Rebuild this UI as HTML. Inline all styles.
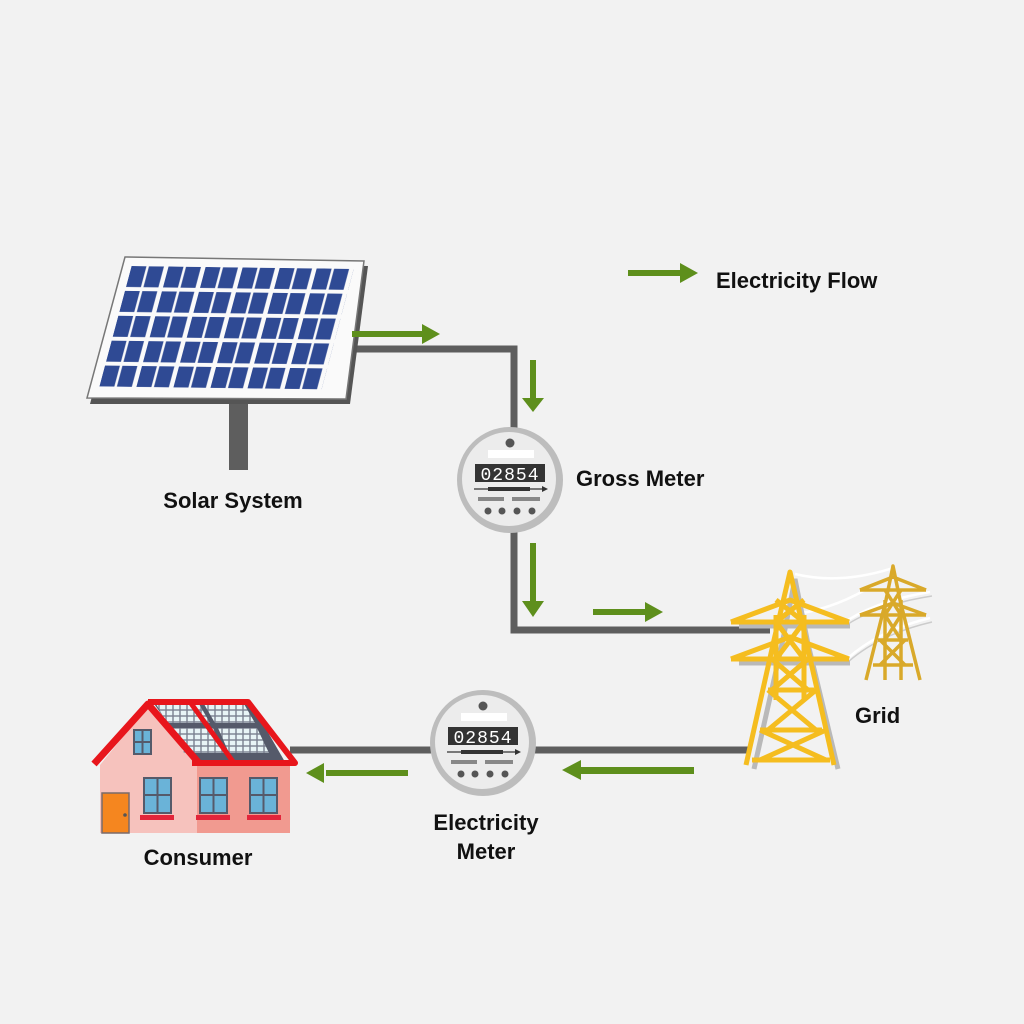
<!DOCTYPE html>
<html><head><meta charset="utf-8"><style>
html,body{margin:0;padding:0;background:#f2f2f2}
svg{display:block}
text{font-family:"Liberation Sans",sans-serif;font-weight:bold;font-size:22px;fill:#111}
</style></head><body>
<svg width="1024" height="1024" viewBox="0 0 1024 1024">
<defs>
<pattern id="cells" patternUnits="userSpaceOnUse" x="2" y="3" width="16.1" height="19">
<rect x="0" y="0" width="6.5" height="16" fill="#2f4a94"/>
<rect x="7.6" y="0" width="6.5" height="16" fill="#2f4a94"/>
</pattern>
<pattern id="rcells" patternUnits="userSpaceOnUse" width="7" height="6">
<rect x="0" y="0" width="7" height="6" fill="#7a8090"/>
<rect x="0.7" y="0.7" width="5.6" height="4.6" fill="#e8f4f6"/>
</pattern>
</defs>
<rect width="1024" height="1024" fill="#f2f2f2"/>

<!-- wires -->
<polyline points="350,349 514,349 514,430" fill="none" stroke="#5e5e5e" stroke-width="7"/>
<polyline points="514,530 514,630 770,630" fill="none" stroke="#5e5e5e" stroke-width="7"/>
<line x1="290" y1="750" x2="748" y2="750" stroke="#5e5e5e" stroke-width="7"/>

<!-- solar panel -->
<rect x="229" y="398" width="19" height="72" fill="#5e5e5e"/>
<polygon points="127,262 368,266 350,404 90,404" fill="#555"/>
<polygon points="125,257 364,261 346,399 87,398" fill="#fafafa" stroke="#777" stroke-width="1.5"/>
<g transform="matrix(2.3,0.03,-0.35,1.31,128,262)">
<rect x="2" y="3" width="96.6" height="92" fill="url(#cells)"/>
</g>

<!-- green arrows -->
<g fill="#5e8f1c">
<rect x="352" y="331" width="72" height="6"/><polygon points="422,324 440,334 422,344"/>
<rect x="530" y="360" width="6" height="40"/><polygon points="522,398 533,412 544,398"/>
<rect x="530" y="543" width="6" height="60"/><polygon points="522,601 533,617 544,601"/>
<rect x="593" y="609" width="54" height="6"/><polygon points="645,602 663,612 645,622"/>
<rect x="628" y="270" width="54" height="6"/><polygon points="680,263 698,273 680,283"/>
<rect x="326" y="770" width="82" height="6"/><polygon points="324,763 306,773 324,783"/>
<rect x="580" y="767" width="114" height="7"/><polygon points="581,760 562,770 581,780"/>
</g>

<!-- gross meter -->
<g transform="translate(510,480)">
<circle r="53" fill="#bdbdbd"/>
<circle r="47" cx="-1" cy="-1" fill="#ececec"/>
<circle cy="-37" r="4.5" fill="#555"/>
<rect x="-22" y="-30" width="46" height="8" fill="#fff"/>
<rect x="-35" y="-16" width="70" height="18" fill="#333"/>
<text x="0" y="0" text-anchor="middle" style="font-family:'Liberation Mono',monospace;font-weight:normal;font-size:18px;fill:#fff;letter-spacing:1px">02854</text>
<line x1="-36" y1="9" x2="34" y2="9" stroke="#333" stroke-width="1.2"/>
<rect x="-22" y="7" width="42" height="4" fill="#333"/>
<polygon points="32,6 38,9 32,12" fill="#333"/>
<rect x="-32" y="17" width="26" height="4" fill="#888"/>
<rect x="2" y="17" width="28" height="4" fill="#888"/>
<g fill="#555"><circle cx="-22" cy="31" r="3.5"/><circle cx="-8" cy="31" r="3.5"/><circle cx="7" cy="31" r="3.5"/><circle cx="22" cy="31" r="3.5"/></g>
</g>

<!-- electricity meter -->
<g transform="translate(483,743)">
<circle r="53" fill="#bdbdbd"/>
<circle r="47" cx="-1" cy="-1" fill="#ececec"/>
<circle cy="-37" r="4.5" fill="#555"/>
<rect x="-22" y="-30" width="46" height="8" fill="#fff"/>
<rect x="-35" y="-16" width="70" height="18" fill="#333"/>
<text x="0" y="0" text-anchor="middle" style="font-family:'Liberation Mono',monospace;font-weight:normal;font-size:18px;fill:#fff;letter-spacing:1px">02854</text>
<line x1="-36" y1="9" x2="34" y2="9" stroke="#333" stroke-width="1.2"/>
<rect x="-22" y="7" width="42" height="4" fill="#333"/>
<polygon points="32,6 38,9 32,12" fill="#333"/>
<rect x="-32" y="17" width="26" height="4" fill="#888"/>
<rect x="2" y="17" width="28" height="4" fill="#888"/>
<g fill="#555"><circle cx="-22" cy="31" r="3.5"/><circle cx="-8" cy="31" r="3.5"/><circle cx="7" cy="31" r="3.5"/><circle cx="22" cy="31" r="3.5"/></g>
</g>

<!-- power lines -->
<g fill="none" stroke="#fff" stroke-width="2.5">
<path d="M795,574 Q840,585 893,568"/>
<path d="M848,620 Q880,600 930,592"/>
<path d="M848,658 Q880,630 930,618"/>
<path d="M790,615 Q830,610 865,590"/>
</g>
<g fill="none" stroke="#ccc" stroke-width="1.5">
<path d="M848,624 Q880,604 932,596"/>
<path d="M848,662 Q880,634 932,622"/>
</g>

<!-- small tower -->
<g fill="none" stroke="#d9a92a" stroke-width="3.5" stroke-linejoin="round">
<polyline points="866,680 886,600 893,566 900,600 920,680"/>
<line x1="885" y1="600" x2="885" y2="680"/><line x1="901" y1="600" x2="901" y2="680"/>
<polyline points="860,590 926,590"/><polyline points="860,590 893,577 926,590"/>
<polyline points="860,615 926,615"/><polyline points="860,615 893,603 926,615"/>
<path d="M885,590 L901,615 M901,590 L885,615 M885,615 L901,640 M901,615 L885,640 M880,640 L905,665 M905,640 L880,665"/>
<line x1="878" y1="640" x2="908" y2="640"/><line x1="873" y1="665" x2="913" y2="665"/>
</g>

<!-- big tower -->
<g fill="none" stroke="#b9b9b9" stroke-width="5" transform="translate(4,4)">
<polyline points="750,765 778,640 791,575 804,640 834,765"/>
<line x1="735" y1="622" x2="846" y2="622"/><line x1="735" y1="659" x2="846" y2="659"/>
</g>
<g fill="none" stroke="#f5bd1f" stroke-width="5" stroke-linejoin="round">
<polyline points="746,765 774,640 790,572 806,640 834,765"/>
<line x1="776" y1="615" x2="776" y2="700"/><line x1="804" y1="615" x2="804" y2="700"/>
<polyline points="731,622 849,622"/><polyline points="731,622 790,600 849,622"/>
<polyline points="731,659 849,659"/><polyline points="731,659 790,637 849,659"/>
<path d="M776,600 L804,622 M804,600 L776,622 M776,622 L804,659 M804,622 L776,659 M772,659 L808,690 M808,659 L772,690 M768,690 L816,730 M816,690 L768,730 M760,730 L826,760 M826,730 L760,760"/>
<line x1="768" y1="690" x2="814" y2="690"/><line x1="760" y1="730" x2="822" y2="730"/><line x1="752" y1="760" x2="830" y2="760"/>
</g>

<!-- house -->
<polygon points="100,765 148,706 197,760 197,833 100,833" fill="#f6c2bd"/>
<rect x="197" y="760" width="93" height="73" fill="#f19a90"/>
<polygon points="152,701 250,701 285,762 196,762" fill="#555a6a"/>
<g transform="translate(152,704)">
<polygon points="4,0 47,0 58,19 15,19" fill="url(#rcells)"/>
<polygon points="52,0 92,0 103,19 63,19" fill="url(#rcells)"/>
<polygon points="20,24 61,24 72,49 32,49" fill="url(#rcells)"/>
<polygon points="66,24 105,24 117,49 77,49" fill="url(#rcells)"/>
</g>
<polyline points="94,764 148,704 198,762" fill="none" stroke="#e8161c" stroke-width="7" stroke-linejoin="round"/>
<polyline points="148,702 248,702 295,763 192,763" fill="none" stroke="#e8161c" stroke-width="6" stroke-linejoin="round"/>
<line x1="190" y1="702" x2="234" y2="763" stroke="#e8161c" stroke-width="5"/>
<g fill="#6ab3d8" stroke="#555a6a" stroke-width="2">
<rect x="134" y="730" width="17" height="24"/>
<rect x="144" y="778" width="27" height="35"/>
<rect x="200" y="778" width="27" height="35"/>
<rect x="250" y="778" width="27" height="35"/>
</g>
<g stroke="#555a6a" stroke-width="2">
<line x1="142.5" y1="730" x2="142.5" y2="754"/><line x1="134" y1="742" x2="151" y2="742"/>
<line x1="157.5" y1="778" x2="157.5" y2="813"/><line x1="144" y1="795" x2="171" y2="795"/>
<line x1="213.5" y1="778" x2="213.5" y2="813"/><line x1="200" y1="795" x2="227" y2="795"/>
<line x1="263.5" y1="778" x2="263.5" y2="813"/><line x1="250" y1="795" x2="277" y2="795"/>
</g>
<g fill="#e3253a">
<rect x="140" y="815" width="34" height="5"/><rect x="196" y="815" width="34" height="5"/><rect x="247" y="815" width="34" height="5"/>
</g>
<rect x="102" y="793" width="27" height="40" fill="#f5861f" stroke="#7a6a6a" stroke-width="1.5"/>
<circle cx="125" cy="815" r="1.8" fill="#555"/>

<!-- labels -->
<text x="233" y="508" text-anchor="middle">Solar System</text>
<text x="576" y="486">Gross Meter</text>
<text x="716" y="288">Electricity Flow</text>
<text x="855" y="723">Grid</text>
<text x="486" y="830" text-anchor="middle">Electricity</text>
<text x="486" y="859" text-anchor="middle">Meter</text>
<text x="198" y="865" text-anchor="middle">Consumer</text>
</svg>
</body></html>
